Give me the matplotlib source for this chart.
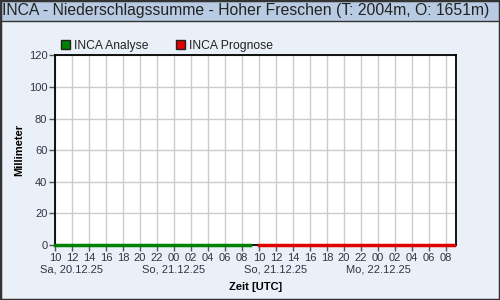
import numpy as np
import matplotlib
matplotlib.use("Agg")
import matplotlib.pyplot as plt
from matplotlib.patches import Patch, Rectangle
import matplotlib.transforms as mtransforms

plt.rcParams['font.family'] = ['Liberation Sans', 'DejaVu Sans']

title = "INCA - Niederschlagssumme - Hoher Freschen (T: 2004m, O: 1651m)"

# hours since Sa 20.12.25 10:00 UTC
analyse_hours = np.arange(0, 24)
analyse_mm = np.zeros(24)
prognose_hours = np.arange(24, 48)
prognose_mm = np.zeros(24)

tick_hours = np.arange(0, 48, 2)
tick_labels = ["10", "12", "14", "16", "18", "20", "22", "00", "02", "04", "06", "08"] * 2
date_hours = [2, 14, 26, 38]
date_labels = ["Sa, 20.12.25", "So, 21.12.25", "So, 21.12.25", "Mo, 22.12.25"]
y_ticks = [0, 20, 40, 60, 80, 100, 120]

txt_col = "#333344"
bg = "#eaf0f8"

fig = plt.figure(figsize=(5, 3), dpi=100, facecolor=bg)

# title bar
fig.patches.append(Rectangle((0, 279 / 300), 1, 21 / 300, transform=fig.transFigure,
                             facecolor="#b8cbe2", edgecolor="#333333", lw=1, zorder=0))
fig.text(0.004, 289.5 / 300, title, fontsize=11.3, color="#222222", va="center", ha="left")
# outer border
fig.patches.append(Rectangle((0, 0), 1, 1, transform=fig.transFigure, fill=False,
                             edgecolor="#333333", lw=2.5, zorder=5))

ax = fig.add_axes([55 / 500, 55 / 300, 400.7 / 500, 189.7 / 300])
ax.set_facecolor("white")
ax.plot(analyse_hours, analyse_mm, color="#008000", lw=2.5, clip_on=False, zorder=3)
ax.plot(prognose_hours, prognose_mm, color="#e00000", lw=2.5, clip_on=False, zorder=3)

ax.set_xlim(0, 47.15)
ax.set_ylim(0, 120)
ax.set_xticks(tick_hours)
ax.set_xticklabels(tick_labels)
ax.set_yticks(y_ticks)
ax.grid(True, color="#cccccc", lw=1)
ax.set_axisbelow(True)
ax.tick_params(labelsize=8, colors=txt_col, length=4, width=1, pad=1.5)
ax.tick_params(axis="both", color="#555555")
for s in ax.spines.values():
    s.set_linewidth(1.3)
    s.set_color("black")

trans = mtransforms.blended_transform_factory(ax.transData, ax.transAxes)
for h, lab in zip(date_hours, date_labels):
    ax.text(h, -0.13, lab, transform=trans, ha="center", va="center", fontsize=8, color=txt_col)

ax.set_xlabel("Zeit [UTC]", fontsize=8, fontweight="bold", color="black", labelpad=14)
ax.set_ylabel("Millimeter", fontsize=8, fontweight="bold", color="black")
ax.yaxis.set_label_coords(-31 / 400.7, 0.5)

handles = [Patch(facecolor="#008000", edgecolor="#222222", label="INCA Analyse"),
           Patch(facecolor="#e00000", edgecolor="#222222", label="INCA Prognose")]
fig.legend(handles=handles, loc="center left", bbox_to_anchor=(50 / 500, 254 / 300), ncol=2,
           frameon=False, fontsize=8.7, handlelength=0.75, handleheight=0.75,
           handletextpad=0.3, columnspacing=2.3, labelcolor="#222222")

fig.savefig("out.png", dpi=100, facecolor=bg)
